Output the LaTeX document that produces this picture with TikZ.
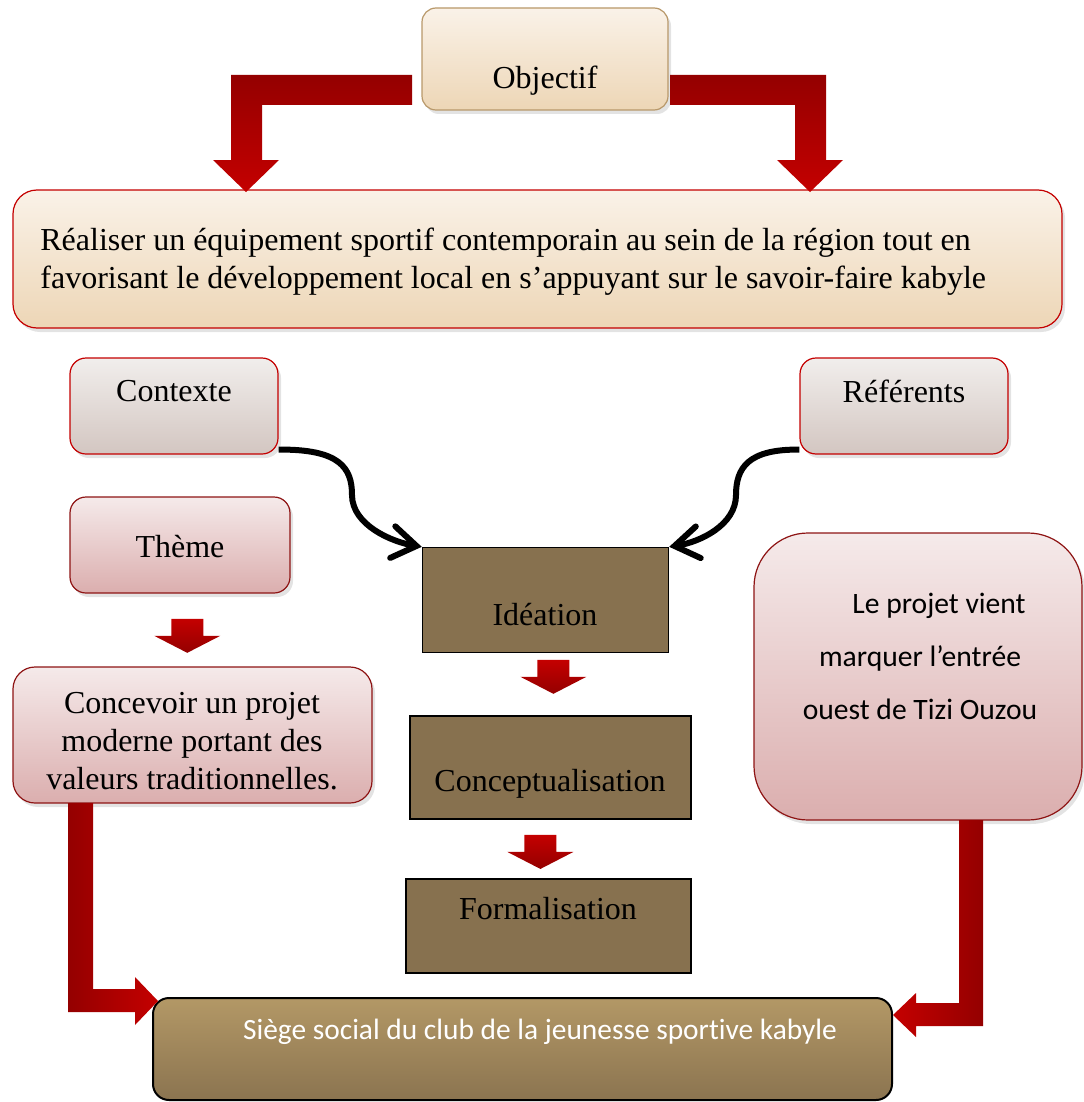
\documentclass[tikz,border=0pt]{standalone}
\usepackage{fontspec}
\setmainfont{Liberation Serif}
\newfontfamily\calibri[Ligatures=NoCommon]{Carlito}
\usetikzlibrary{arrows.meta,calc,shadows}
\definecolor{redlo}{HTML}{940000}
\definecolor{redhi}{HTML}{C40000}
\definecolor{tanline}{HTML}{B8986A}
\definecolor{creamtop}{HTML}{FAF2E8}
\definecolor{creambot}{HTML}{EDD6B6}
\definecolor{greytop}{HTML}{F1EEEC}
\definecolor{greybot}{HTML}{D3C6C1}
\definecolor{pinktop}{HTML}{F5EAEA}
\definecolor{pinkbot}{HTML}{DBAEAE}
\definecolor{wine}{HTML}{8E1414}
\definecolor{mud}{HTML}{87714F}
\definecolor{mudtop}{HTML}{B39866}
\definecolor{mudbot}{HTML}{8B7450}
\tikzset{shd/.style={drop shadow={opacity=.22,shadow xshift=1.5pt,shadow yshift=-2pt}},
objbox/.style={draw=tanline,line width=.6pt,rounded corners=7pt,top color=creamtop,bottom color=creambot,shd},
goalbox/.style={draw=redhi,line width=.6pt,rounded corners=12pt,top color=creamtop,bottom color=creambot,shd},
greybox/.style={draw=redhi,line width=.6pt,rounded corners=8pt,top color=greytop,bottom color=greybot,shd},
pinkbox/.style={draw=wine,line width=.6pt,rounded corners=#1,top color=pinktop,bottom color=pinkbot,shd},pinkbox/.default=8pt,
stage/.style={draw=black,line width=.7pt,fill=mud},
seat/.style={draw=black,line width=1pt,rounded corners=8pt,top color=mudtop,bottom color=mudbot},
lbl/.style={inner sep=0pt,font=\fontsize{16}{19}\selectfont,align=center},
curv/.style={line width=3pt,-{Straight Barb[length=12pt,width=16pt,line cap=round]}},
redv/.style={top color=redlo,bottom color=redhi},
dnarrow/.pic={\shade[top color=redhi,bottom color=redlo] (-16,-17)--(16,-17)--(16,0)--(33,0)--(0,17)--(-33,0)--(-16,0)--cycle;}}
\begin{document}
\begin{tikzpicture}[x=.5pt,y=-.5pt]
\useasboundingbox (0,0) rectangle (1083,1102);
% boxes
\node[objbox,minimum width=123pt,minimum height=51pt] (obj) at (545,59) {};
\node[goalbox,minimum width=524.5pt,minimum height=69pt] (goal) at (537.5,259) {};
\node[greybox,minimum width=104pt,minimum height=48pt] (ctx) at (174,406) {};
\node[greybox,minimum width=104pt,minimum height=48pt] (ref) at (904,406) {};
\node[pinkbox,minimum width=110pt,minimum height=48pt] (theme) at (180,545) {};
\node[pinkbox=11pt,minimum width=179.5pt,minimum height=68pt] (concv) at (192.5,735) {};
\node[pinkbox=27pt,minimum width=164pt,minimum height=143.5pt] (proj) at (918,676.5) {};
\node[stage,minimum width=123pt,minimum height=52.5pt] (idea) at (545.5,600) {};
\node[stage,minimum width=140.5pt,minimum height=51.5pt] (conc) at (550.5,767.5) {};
\node[stage,minimum width=142.5pt,minimum height=47pt] (form) at (548.5,926) {};
\node[seat,minimum width=369.5pt,minimum height=51pt] (seat) at (522.5,1049) {};
% texts
\node[lbl] (objt) at (545,81) {Objectif};
\node[lbl,anchor=west,align=left] (goalt) at (40,262) {Réaliser un équipement sportif contemporain au sein de la région tout en\\favorisant le développement local en s’appuyant sur le savoir-faire kabyle};
\node[lbl] (ctxt) at (174,391) {Contexte};
\node[lbl] (reft) at (904,391) {Référents};
\node[lbl] (themt) at (180,547) {Thème};
\node[lbl] (concvt) at (192,741) {Concevoir un projet\\moderne portant des\\valeurs traditionnelles.};
\node[lbl] (ideat) at (545,615) {Idéation};
\node[lbl] (conct) at (550,784) {Conceptualisation};
\node[lbl] (formt) at (548,909) {Formalisation};
\node[lbl,font=\calibri\fontsize{14.8}{26.5}\selectfont] (projt) at (920,656) {\hspace*{19pt}Le projet vient\\marquer l’entrée\\ouest de Tizi Ouzou};
\node[lbl,text=white,font=\calibri\fontsize{14.7}{17}\selectfont] (seatt) at (540,1032) {Siège social du club de la jeunesse sportive kabyle};
% red block arrows
\shade[redv] (412,75)--(231,75)--(231,160)--(213,160)--(246,192)--(279,160)--(262,160)--(262,105)--(412,105)--cycle;
\shade[redv] (670,75)--(826,75)--(826,160)--(843,160)--(810,192)--(777,160)--(795,160)--(795,105)--(670,105)--cycle;
\shade[left color=redlo,right color=redhi] (68,803)--(93,803)--(93,989)--(135,989)--(135,977)--(158,1001)--(135,1025)--(135,1012)--(68,1012)--cycle;
\shade[left color=redhi,right color=redlo] (983,820)--(983,1026)--(916,1026)--(916,1037)--(893,1015)--(916,993)--(916,1003)--(959,1003)--(959,820)--cycle;
\pic at ($(theme.south)!.58!(concv.north)$) {dnarrow};
\pic at ($(idea.south)!.38!(conc.north)+(6,0)$) {dnarrow};
\pic at ($(conc.south)!.55!(form.north)+(-9,0)$) {dnarrow};
% curved arrows
\draw[curv] ($(ctx.south east)+(0,-5)$) .. controls (340,449) and (352,468) .. (352,495) .. controls (352,525) and (392,542) .. (idea.north west);
\draw[curv] ($(ref.south west)+(0,-5)$) .. controls (748,449) and (736,468) .. (736,495) .. controls (736,525) and (700,542) .. (idea.north east);
\end{tikzpicture}
\end{document}
